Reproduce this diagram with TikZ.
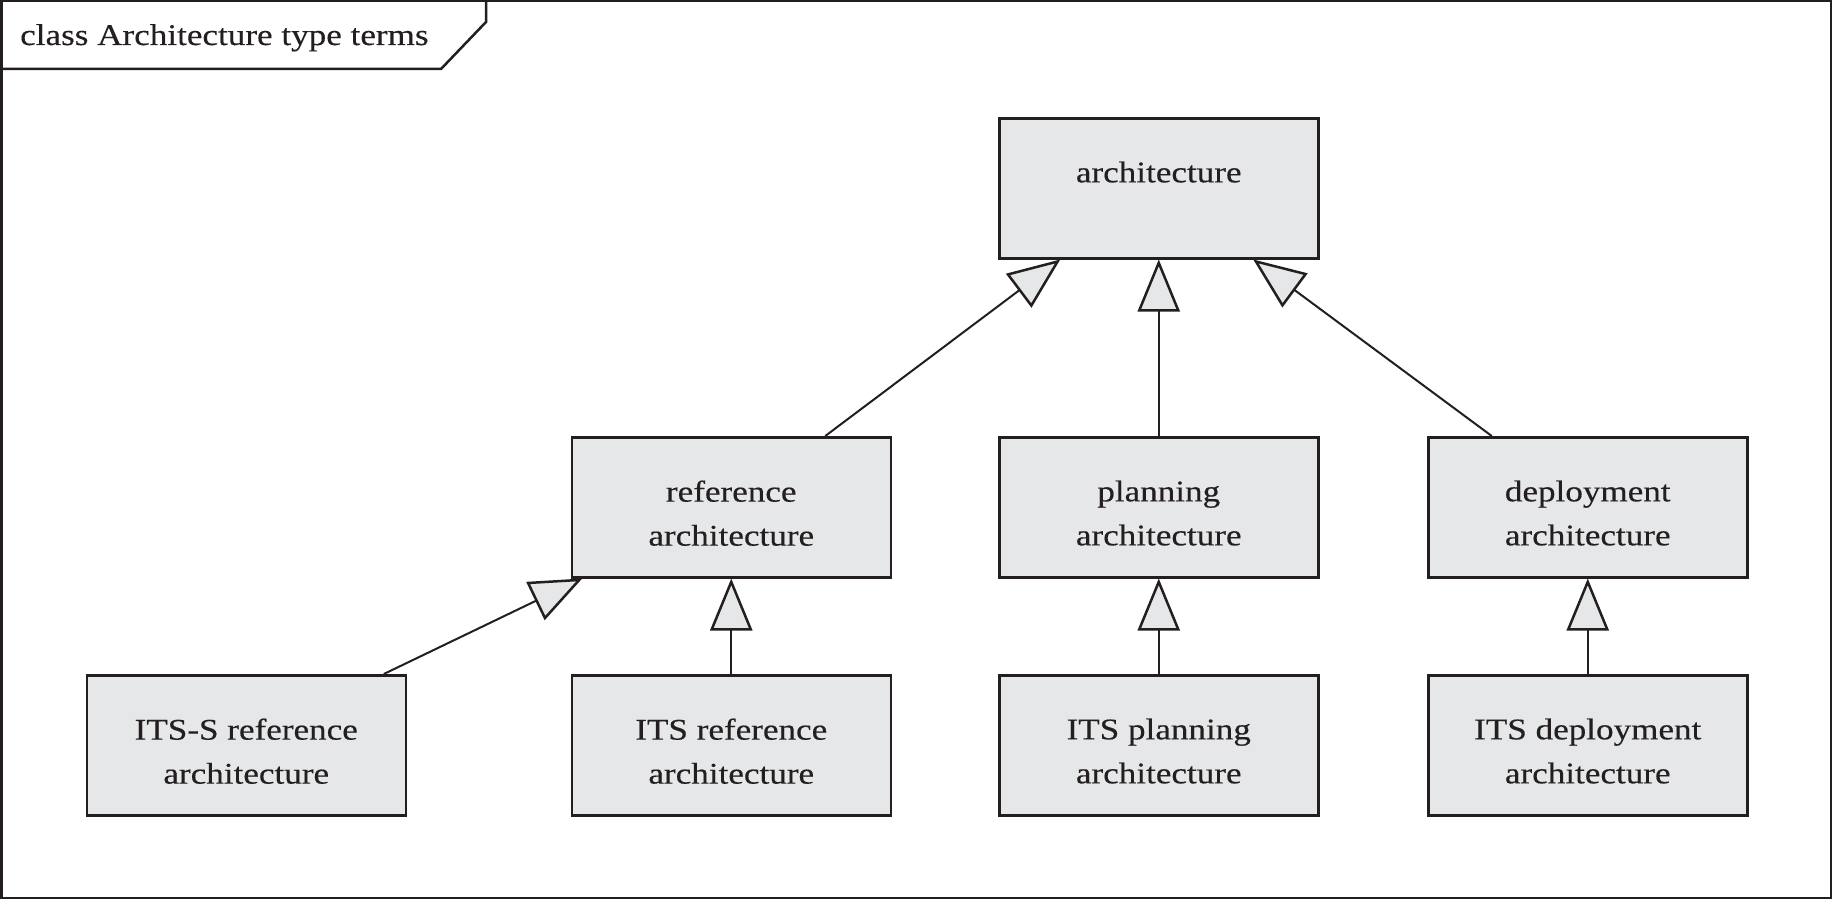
\documentclass[tikz,border=0pt]{standalone}
\usepackage{fontspec}
\setmainfont[FakeStretch=1.17,FakeBold=0.35]{Liberation Serif}
\usetikzlibrary{arrows.meta}
\definecolor{boxgray}{HTML}{E6E7E8}
\definecolor{ink}{HTML}{231F20}
\begin{document}
\begin{tikzpicture}[x=1pt,y=-1pt,
  box/.style={draw=ink, fill=boxgray, line width=2.5pt, minimum width=319pt, minimum height=140pt, inner sep=0pt, anchor=north west},
  lbl/.style={font=\fontsize{30}{44}\selectfont, text=ink, align=center, inner sep=0pt, anchor=north},
  gen/.style={draw=ink, line width=2pt, -{Triangle[length=52pt,width=42pt,fill=boxgray,line width=2.5pt]}},
  frame/.style={draw=ink, line width=2.5pt, line join=miter}]
\useasboundingbox (0,0) rectangle (1832,899);
\draw[frame] (1.25,1.25) rectangle (1830.75,897.75);
\draw[frame] (1.25,69) -- (441,69) -- (486,22) -- (486,1.25);
\node[lbl, anchor=base west] (title) at (20,45) {class Architecture type terms};

\node[box] (arch) at (998,117) {};
\node[box] (ref) at (570.5,436) {};
\node[box] (plan) at (998,436) {};
\node[box] (dep) at (1427,436) {};
\node[box] (itss) at (85.5,674) {};
\node[box] (itsref) at (570.5,674) {};
\node[box] (itsplan) at (998,674) {};
\node[box] (itsdep) at (1427,674) {};

\node[lbl] (archT) at ([yshift=-44.3pt]arch.north) {architecture};
\node[lbl] (refT) at ([yshift=-44.3pt]ref.north) {reference\\architecture};
\node[lbl] (planT) at ([yshift=-44.3pt]plan.north) {planning\\architecture};
\node[lbl] (depT) at ([yshift=-44.3pt]dep.north) {deployment\\architecture};
\node[lbl] (itssT) at ([yshift=-44.3pt]itss.north) {ITS-S reference\\architecture};
\node[lbl] (itsrefT) at ([yshift=-44.3pt]itsref.north) {ITS reference\\architecture};
\node[lbl] (itsplanT) at ([yshift=-44.3pt]itsplan.north) {ITS planning\\architecture};
\node[lbl] (itsdepT) at ([yshift=-44.3pt]itsdep.north) {ITS deployment\\architecture};

\draw[gen] ([xshift=94pt]ref.north) -- ([xshift=-98.5pt]arch.south);
\draw[gen] (plan.north) -- (arch.south);
\draw[gen] ([xshift=-96pt]dep.north) -- ([xshift=94.5pt]arch.south);
\draw[gen] ([xshift=137.6pt]itss.north) -- ([xshift=-149pt]ref.south);
\draw[gen] (itsref.north) -- (ref.south);
\draw[gen] (itsplan.north) -- (plan.south);
\draw[gen] (itsdep.north) -- (dep.south);
\end{tikzpicture}
\end{document}
